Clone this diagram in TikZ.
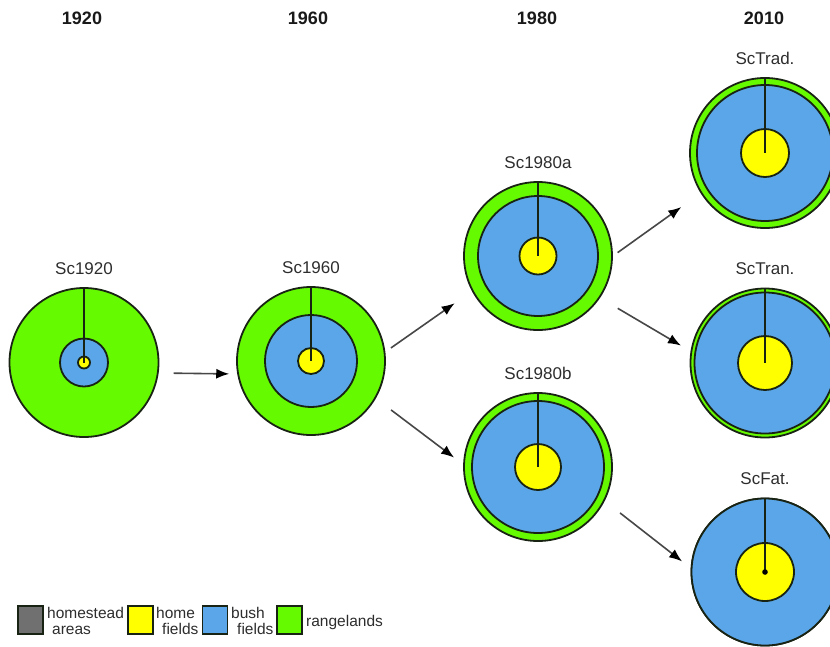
\documentclass[tikz,border=0pt]{standalone}
\usepackage{fontspec}
\setmainfont{Liberation Sans}
\usetikzlibrary{arrows.meta,positioning}

\definecolor{range}{RGB}{102,250,0}
\definecolor{bush}{RGB}{90,166,232}
\definecolor{home}{RGB}{255,255,0}
\definecolor{homestead}{RGB}{112,112,112}
\definecolor{edge}{RGB}{25,35,20}
\definecolor{txt}{RGB}{45,45,45}

\begin{document}
\begin{tikzpicture}[x=1pt,y=-1pt,
  ring/.style={circle,draw=edge,line width=1.8pt,inner sep=0pt},
  scname/.style={text=txt,font=\fontsize{17}{19}\selectfont},
  year/.style={text=black!90,font=\bfseries\fontsize{18}{20}\selectfont},
  legbox/.style={draw=edge,line width=1.8pt,minimum width=25pt,minimum height=28pt,inner sep=0pt},
  legtext/.style={text=txt,font=\fontsize{15.5}{16}\selectfont,align=left,anchor=west,inner sep=0pt},
  flow/.style={draw=black!72,line width=1.6pt,-{Latex[length=13pt,width=10pt,color=black]}}]
\useasboundingbox (0,0) rectangle (830,646);

% years
\node[year] (y1920) at (82,18) {1920};
\node[year] (y1960) at (308,18) {1960};
\node[year] (y1980) at (537,18) {1980};
\node[year] (y2010) at (764,18) {2010};

% scenarios: name/x/y/outer/bush/home/outer colour/label
\foreach \n/\x/\y/\ro/\rb/\rh/\oc/\lab in {
  1920/84/362.5/149/48/12/range/Sc1920,
  1960/311/361/148/92/26/range/Sc1960,
  1980a/538/256/148/120/37/range/Sc1980a,
  1980b/538/467/148/132/46/range/Sc1980b,
  Trad/765/153/150/136/48/range/ScTrad.,
  Tran/765/363/149/141/54/range/ScTran.,
  Fat/765/572/147/147/58/bush/ScFat.}{
  \node[ring,fill=\oc,minimum size=\ro pt] (s\n) at (\x,\y) {};
  \node[ring,fill=bush,minimum size=\rb pt] (b\n) at (s\n) {};
  \node[ring,fill=home,minimum size=\rh pt] (h\n) at (s\n) {};
  \draw[edge,line width=1.6pt] (s\n.north) -- (s\n.center);
  \node[scname,above=9pt of s\n] (l\n) {\lab};
}
\fill[black] (sFat) circle (2.8pt);% homestead dot

% transitions
\draw[flow,shorten <=15pt,shorten >=8pt] (s1920.-8.5) -- (s1960.-170.4);
\draw[flow,shorten <=6.8pt,shorten >=21pt] (s1960.7.1) -- (s1980a.-152.8);
\draw[flow,shorten <=19pt,shorten >=11.3pt] (s1960.-30.6) -- (s1980b.178.4);
\draw[flow,shorten <=5.8pt,shorten >=23.8pt] (s1980a.-0.5) -- (sTrad.-148.7);
\draw[flow,shorten <=20.5pt,shorten >=11.1pt] (s1980a.-34.5) -- (sTran.171.7);
\draw[flow,shorten <=19.4pt,shorten >=10.9pt] (s1980b.-27.5) -- (sFat.177.4);

% legend
\node[legbox,fill=homestead] (k1) at (30.5,620) {};
\node[legtext] (t1) at (47,621) {homestead\\\hspace*{5pt}areas};
\node[legbox,fill=home] (k2) at (140.5,620) {};
\node[legtext] (t2) at (156,621) {home\\\hspace*{6pt}fields};
\node[legbox,fill=bush] (k3) at (215,620) {};
\node[legtext] (t3) at (231,621) {bush\\\hspace*{6pt}fields};
\node[legbox,fill=range] (k4) at (289.5,620) {};
\node[legtext] (t4) at (306,622) {rangelands};

\end{tikzpicture}
\end{document}
